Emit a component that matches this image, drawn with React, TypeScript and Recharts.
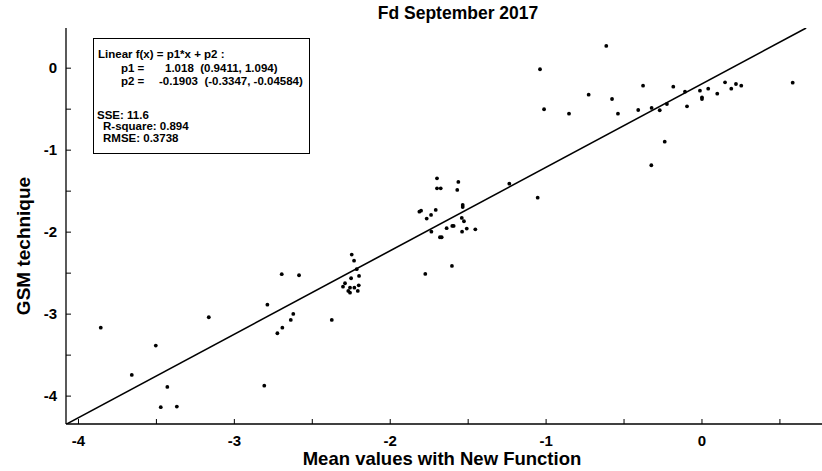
import React from "react";
import {
  ScatterChart,
  Scatter,
  XAxis,
  YAxis,
  Customized,
} from "recharts";

// Mean values with New Function (x)
const meanValues: number[] = [
  -3.857, -3.658, -3.504, -3.472, -3.43, -3.369, -3.164, -2.808, -2.788, -2.724,
  -2.692, -2.638, -2.622, -2.375, -2.696, -2.585,
  -2.247, -2.232, -2.215, -2.2, -2.251, -2.29, -2.303, -2.258, -2.23, -2.202,
  -2.269, -2.258, -2.208,
  -1.7, -1.7, -1.676, -1.563, -1.57, -1.813, -1.802, -1.708, -1.738, -1.766,
  -1.535, -1.535, -1.541, -1.527, -1.509, -1.454, -1.539, -1.638, -1.602, -1.593,
  -1.736, -1.681, -1.67, -1.775, -1.604, -1.236, -1.054,
  -1.039, -1.013, -0.853, -0.727, -0.614, -0.577, -0.539, -0.409, -0.378, -0.323,
  -0.325, -0.271, -0.239, -0.225, -0.184, -0.109, -0.096, -0.013, 0.0, 0.0,
  0.04, 0.098, 0.148, 0.188, 0.218, 0.252, 0.582,
];

// GSM technique (y)
const gsmValues: number[] = [
  -3.165, -3.741, -3.384, -4.135, -3.888, -4.128, -3.038, -3.872, -2.884, -3.233,
  -3.165, -3.071, -2.998, -3.071, -2.513, -2.526,
  -2.274, -2.348, -2.452, -2.534, -2.562, -2.623, -2.665, -2.677, -2.677, -2.648,
  -2.717, -2.738, -2.717,
  -1.343, -1.465, -1.465, -1.388, -1.485, -1.75, -1.738, -1.729, -1.79, -1.835,
  -1.668, -1.693, -1.827, -1.867, -1.957, -1.965, -1.994, -1.952, -1.924, -1.924,
  -1.994, -2.062, -2.062, -2.51, -2.412, -1.409, -1.579,
  -0.013, -0.501, -0.555, -0.323, 0.271, -0.376, -0.555, -0.51, -0.213, -0.485,
  -1.184, -0.513, -0.896, -0.437, -0.226, -0.287, -0.465, -0.274, -0.355, -0.376,
  -0.25, -0.311, -0.172, -0.25, -0.193, -0.213, -0.177,
];

const xTicks: number[] = [-4, -3.5, -3, -2.5, -2, -1.5, -1, -0.5, 0, 0.5];
const yTicks: number[] = [-4, -3.5, -3, -2.5, -2, -1.5, -1, -0.5, 0];
const xDomain: [number, number] = [-4.08, 0.77];
const yDomain: [number, number] = [-4.34, 0.49];

// Linear fit parameters f(x) = p1*x + p2
const p1 = 1.018;
const p2 = -0.1903;

const fitLines: string[] = [
  "Linear f(x) = p1*x + p2 :",
  "p1 =",
  "1.018  (0.9411, 1.094)",
  "p2 =",
  "-0.1903  (-0.3347, -0.04584)",
  "SSE: 11.6",
  "R-square: 0.894",
  "RMSE: 0.3738",
];

const points = meanValues.map((x, i) => ({ x, y: gsmValues[i] }));
const fitEnd = Math.min(xDomain[1], (yDomain[1] - p2) / p1);
const fitData = [
  { x: xDomain[0], y: p1 * xDomain[0] + p2 },
  { x: fitEnd, y: p1 * fitEnd + p2 },
];

const FONT = '"Liberation Sans", Arial, Helvetica, sans-serif';

const fmt = (v: number) => (Number.isInteger(v) ? String(v) : "");

const Dot = (props: any) => {
  const { cx, cy } = props;
  if (cx == null || cy == null) return null;
  return <circle cx={cx} cy={cy} r={1.9} fill="#000" />;
};

const NoDot = () => null;

const Texts = () => (
  <g fontFamily={FONT} fontWeight="bold" fill="#000" style={{ whiteSpace: "pre" }}>
    <text x={458} y={19} fontSize={17.5} textAnchor="middle">
      Fd September 2017
    </text>
    <text x={442} y={465} fontSize={18.5} textAnchor="middle">
      Mean values with New Function
    </text>
    <text
      x={0}
      y={0}
      fontSize={19}
      textAnchor="middle"
      transform="translate(30,246) rotate(-90)"
    >
      GSM technique
    </text>
    <rect x={93.5} y={38.5} width={216} height={115} fill="#fff" stroke="#000" strokeWidth={1} />
    <g fontSize={11.5}>
      <text x={98} y={58}>{fitLines[0]}</text>
      <text x={121} y={72}>{fitLines[1]}</text>
      <text x={165} y={72} xmlSpace="preserve">{fitLines[2]}</text>
      <text x={121} y={84.5}>{fitLines[3]}</text>
      <text x={159} y={84.5} xmlSpace="preserve">{fitLines[4]}</text>
      <text x={97} y={118.5}>{fitLines[5]}</text>
      <text x={103} y={130}>{fitLines[6]}</text>
      <text x={103} y={141.5}>{fitLines[7]}</text>
    </g>
  </g>
);

export default function App() {
  return (
    <div
      style={{
        position: "absolute",
        left: 0,
        top: 0,
        width: 822,
        height: 471,
        background: "#fff",
      }}
    >
      <ScatterChart
        width={822}
        height={471}
        margin={{ top: 28, right: 0, bottom: 0, left: 0 }}
        style={{ background: "#fff", overflow: "visible" }}
      >
        <XAxis
          xAxisId="b"
          type="number"
          dataKey="x"
          domain={xDomain}
          ticks={xTicks}
          allowDataOverflow
          height={47}
          orientation="bottom"
          tickSize={-5}
          tickMargin={16}
          tickFormatter={fmt}
          stroke="#000"
          axisLine={{ stroke: "#000", strokeWidth: 1.3 }}
          tickLine={{ stroke: "#000" }}
          tick={{ fill: "#000", fontSize: 15, fontWeight: "bold", fontFamily: FONT }}
        />
        <XAxis
          xAxisId="t"
          type="number"
          dataKey="x"
          domain={xDomain}
          ticks={xTicks}
          allowDataOverflow
          height={0}
          orientation="top"
          mirror
          tickSize={5}
          tickFormatter={() => ""}
          axisLine={{ stroke: "#000", strokeWidth: 1.3 }}
          tickLine={{ stroke: "#000" }}
        />
        <YAxis
          yAxisId="l"
          type="number"
          dataKey="y"
          domain={yDomain}
          ticks={yTicks}
          allowDataOverflow
          width={66}
          orientation="left"
          tickSize={-5}
          tickMargin={14}
          tickFormatter={fmt}
          axisLine={{ stroke: "#000", strokeWidth: 1.3 }}
          tickLine={{ stroke: "#000" }}
          tick={{ fill: "#000", fontSize: 15, fontWeight: "bold", fontFamily: FONT }}
        />
        <Scatter
          xAxisId="b"
          yAxisId="l"
          data={fitData}
          line={{ stroke: "#000", strokeWidth: 1.6 }}
          shape={NoDot}
          isAnimationActive={false}
        />
        <Scatter
          xAxisId="b"
          yAxisId="l"
          data={points}
          shape={Dot}
          isAnimationActive={false}
        />
        <Customized component={Texts} />
      </ScatterChart>
    </div>
  );
}
